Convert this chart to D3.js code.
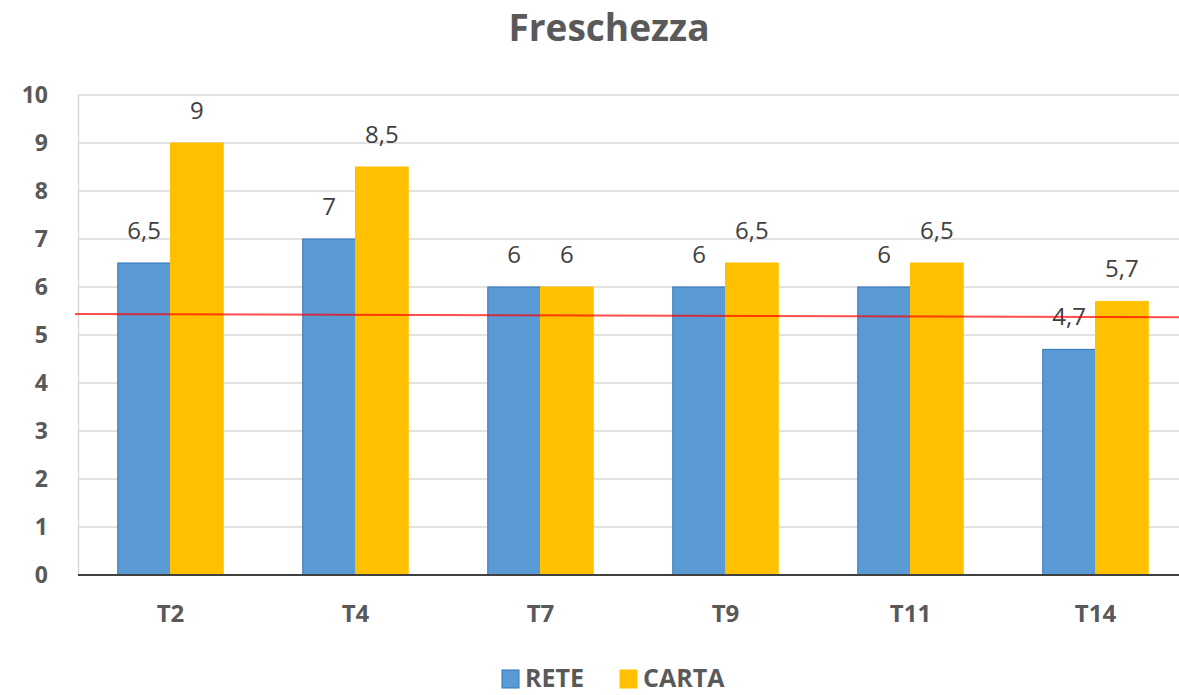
<!DOCTYPE html>
<html>
<head>
<meta charset="utf-8">
<script src="https://cdn.jsdelivr.net/npm/d3@7"></script>
<style>
  body { margin: 0; background: #fff; }
  svg { display: block; font-family: "Open Sans", sans-serif; }
</style>
</head>
<body>
<div id="chart"></div>
<script>
const categories = ["T2", "T4", "T7", "T9", "T11", "T14"];
const series = ["RETE", "CARTA"];
const rete = [6.5, 7, 6, 6, 6, 4.7];
const carta = [9, 8.5, 6, 6.5, 6.5, 5.7];
const yTicks = [0, 1, 2, 3, 4, 5, 6, 7, 8, 9, 10];
// linea rossa disegnata a mano (valore a sinistra, valore a destra)
const refLine = [5.44, 5.37];

const colors = { RETE: "#5b9bd5", CARTA: "#ffc000" };
const strokes = { RETE: "#2e75b6", CARTA: "#ffc000" };

const width = 1179, height = 695;
const margin = { left: 78, right: -9, top: 95, bottom: 120 };

const svg = d3.select("#chart")
  .append("svg")
  .attr("width", width)
  .attr("height", height);

// Echelles
const x = d3.scaleBand()
  .domain(categories)
  .range([margin.left, width - margin.right])
  .paddingInner(0.43)
  .paddingOuter(0.215);

const xSub = d3.scaleBand()
  .domain(series)
  .range([0, x.bandwidth()]);

const y = d3.scaleLinear()
  .domain([0, 10])
  .range([height - margin.bottom, margin.top]);

// Titre
svg.append("text")
  .attr("x", 609)
  .attr("y", 41)
  .attr("text-anchor", "middle")
  .attr("fill", "#595959")
  .style("font-size", "37px")
  .style("font-weight", "bold")
  .text("Freschezza");

// Grille
svg.append("g")
  .selectAll("line")
  .data(yTicks.filter(d => d > 0))
  .join("line")
  .attr("x1", margin.left)
  .attr("x2", width)
  .attr("y1", d => y(d))
  .attr("y2", d => y(d))
  .attr("stroke", "#d9d9d9")
  .attr("stroke-width", 1.5);

// Axe Y
const yAxis = svg.append("g")
  .attr("transform", `translate(${margin.left},0)`)
  .call(d3.axisLeft(y).tickValues(yTicks).tickSize(0).tickPadding(30));
yAxis.select(".domain").attr("stroke", "#d9d9d9").attr("stroke-width", 1.5);
yAxis.selectAll("text")
  .attr("fill", "#595959")
  .style("font-size", "23px")
  .style("font-weight", "bold")
  .style("font-family", "'Open Sans', sans-serif");

// Barres
const data = categories.map((c, i) => ({ cat: c, values: [
  { key: "RETE", value: rete[i] },
  { key: "CARTA", value: carta[i] }
]}));

const groups = svg.append("g")
  .selectAll("g")
  .data(data)
  .join("g")
  .attr("transform", d => `translate(${x(d.cat)},0)`);

groups.selectAll("rect")
  .data(d => d.values)
  .join("rect")
  .attr("x", d => xSub(d.key))
  .attr("y", d => y(d.value))
  .attr("width", xSub.bandwidth())
  .attr("height", d => y(0) - y(d.value))
  .attr("fill", d => colors[d.key])
  .attr("stroke", d => strokes[d.key])
  .attr("stroke-width", 1);

// Etiquettes de valeur
groups.selectAll("text")
  .data(d => d.values)
  .join("text")
  .attr("x", d => xSub(d.key) + xSub.bandwidth() / 2)
  .attr("y", d => y(d.value) - 24)
  .attr("text-anchor", "middle")
  .attr("fill", "#404040")
  .style("font-size", "24px")
  .text(d => String(d.value).replace(".", ","));

// Axe X
const xAxis = svg.append("g")
  .attr("transform", `translate(0,${y(0)})`)
  .call(d3.axisBottom(x).tickSize(0).tickPadding(30));
xAxis.select(".domain").attr("stroke", "#404040").attr("stroke-width", 2)
  .attr("d", `M${margin.left},0H${width}`);
xAxis.selectAll("text")
  .attr("fill", "#595959")
  .style("font-size", "24px")
  .style("font-weight", "bold")
  .style("font-family", "'Open Sans', sans-serif");

// Ligne rouge
svg.append("line")
  .attr("x1", 75)
  .attr("x2", width)
  .attr("y1", y(refLine[0]))
  .attr("y2", y(refLine[1]))
  .attr("stroke", "#ff0000")
  .attr("stroke-opacity", 0.7)
  .attr("stroke-width", 2);

// Légende
const legend = svg.append("g").attr("transform", "translate(502,670)");
const legendX = [0, 118];
series.forEach((s, i) => {
  const g = legend.append("g").attr("transform", `translate(${legendX[i]},0)`);
  g.append("rect")
    .attr("width", 17).attr("height", 18)
    .attr("fill", colors[s])
    .attr("stroke", strokes[s]);
  g.append("text")
    .attr("x", 23)
    .attr("y", 17)
    .attr("fill", "#595959")
    .style("font-size", "25px")
    .style("font-weight", "bold")
    .text(s);
});
</script>
</body>
</html>
